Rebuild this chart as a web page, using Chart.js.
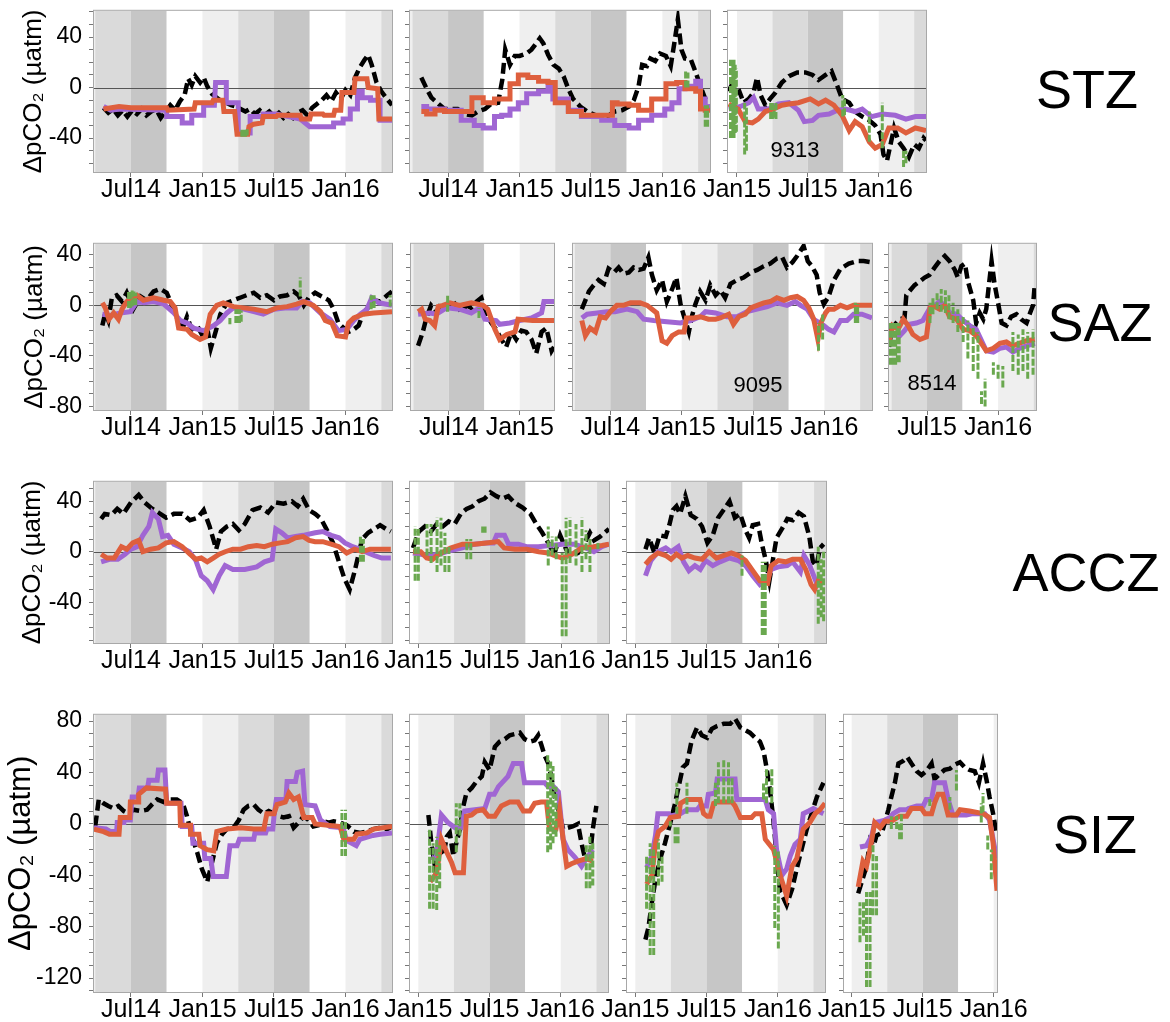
<!DOCTYPE html>
<html><head><meta charset="utf-8">
<script src="https://cdn.jsdelivr.net/npm/chart.js@4.4.1/dist/chart.umd.min.js"></script>
<style>
body{margin:0;background:#fff;width:1170px;height:1022px;position:relative;overflow:hidden;font-family:"Liberation Sans",Arial,sans-serif}
canvas{position:absolute}
.zone{position:absolute;font-size:54px;transform:translate(-50%,-50%);color:#000;white-space:nowrap}
.note{position:absolute;font-size:22px;transform:translate(-50%,-50%);color:#000}
</style></head><body>
<script>
// ---------- tick labels / categories ----------
const xTickMonths = [6, 12, 18, 24];            // months since Jan 2014
const xTickLabels = ['Jul14', 'Jan15', 'Jul15', 'Jan16'];
const yTitle = 'ΔpCO₂ (µatm)';
const zoneNames = ['STZ', 'SAZ', 'ACCZ', 'SIZ'];
const floatIds = ['9313', '9095', '8514'];
const yLabelsSmall = [40, 0, -40, -80];
const yLabelsSIZ = [80, 40, 0, -40, -80, -120];
// season shading: Jan–Apr, Apr–Jul, Jul–Oct, Oct–Jan
const seasonColors = ['#efefef', '#dadada', '#c6c6c6', '#ffffff'];

// ---------- series: [month, value]; green: [month, low, high] ----------
const stz1Black = [[3.7,-16],[4.1,-20],[4.5,-17],[4.9,-22],[5.3,-18],[5.7,-23],[6.1,-18],[6.5,-21],[6.9,-17],[7.3,-22],[7.7,-19],[8.1,-17],[8.5,-24],[8.9,-19],[9.3,-14],[9.7,-18],[10.1,-11],[10.5,-6],[10.8,7],[11.1,2],[11.4,9],[11.8,4],[12.1,8],[12.4,1],[12.8,-5],[13.2,-8],[13.6,-11],[14.0,-12],[14.4,-14],[14.8,-15],[15.2,-17],[15.6,-19],[16.0,-17],[16.4,-21],[16.8,-18],[17.2,-22],[17.6,-19],[18.0,-23],[18.4,-20],[18.8,-24],[19.2,-21],[19.6,-24],[20.0,-20],[20.4,-18],[20.8,-22],[21.2,-16],[21.6,-13],[22.0,-10],[22.4,-6],[22.8,-11],[23.2,-4],[23.6,-9],[24.0,-2],[24.4,-6],[24.8,8],[25.2,16],[25.6,22],[25.9,26],[26.2,18],[26.6,4],[27.0,-3],[27.4,-8],[27.9,-14]];
const stz1Purple = [[3.7,-15],[4.3,-18],[5.1,-17],[9.0,-18],[9.0,-23],[10.3,-23],[10.3,-28],[11.1,-28],[11.1,-22],[12.1,-22],[12.1,-14],[13.0,-14],[13.1,4],[14.0,4],[14.0,-12],[15.0,-12],[15.0,-36],[16.0,-36],[16.0,-23],[17.1,-23],[17.1,-21],[18.2,-21],[19.2,-23],[20.2,-25],[21.0,-31],[23.0,-31],[23.0,-28],[23.8,-28],[23.8,-25],[24.4,-25],[24.4,-17],[25.0,-17],[25.0,-3],[25.4,-3],[25.4,-8],[26.1,-8],[26.1,-10],[26.9,-10],[26.9,-26],[27.9,-26]];
const stz1Red = [[3.7,-17],[5.0,-15],[6.0,-16],[9.0,-16],[9.1,-18],[11.3,-17],[11.4,-12],[12.8,-12],[12.9,-10],[13.7,-10],[13.8,-19],[14.7,-19],[14.9,-37],[15.8,-37],[15.9,-31],[16.3,-29],[17.0,-28],[17.1,-23],[18.2,-23],[18.3,-22],[20.2,-22],[20.3,-25],[21.0,-25],[21.1,-21],[22.1,-21],[22.2,-22],[23.0,-22],[23.1,-18],[23.6,-18],[23.7,-4],[24.7,-4],[24.8,7],[25.8,7],[25.9,0],[26.7,-1],[26.8,-25],[27.9,-25]];
const stz1Green = [[15.3,-39,-32],[15.45,-39,-32],[15.6,-39,-32],[15.75,-38,-33]];

const stz2Black = [[3.75,8],[4.2,-1],[4.6,-8],[5.2,-13],[5.7,-17],[6.3,-17],[6.8,-17],[7.4,-21],[8.0,-22],[8.5,-19],[9.1,-17],[9.6,-13],[10.2,-12],[10.55,6],[10.8,30],[11.2,18],[11.6,25],[12.0,25],[12.6,27],[13.0,30],[13.4,35],[13.7,39],[14.0,35],[14.4,26],[14.85,18],[15.3,15],[15.7,9],[16.1,-1],[16.5,-9],[17.1,-15],[17.7,-19],[18.4,-22],[18.9,-23],[19.5,-22],[20.0,-19],[20.6,-18],[21.2,-15],[21.6,-10],[22.0,1],[22.3,18],[22.7,17],[23.0,23],[23.4,21],[23.8,27],[24.3,25],[24.7,17],[25.0,35],[25.3,54],[25.6,30],[25.9,23],[26.4,22],[26.8,12],[27.2,1],[27.6,-9],[28.0,-12]];
const stz2Purple = [[3.75,-15],[4.2,-15],[4.2,-17],[5.7,-17],[5.7,-18],[7.1,-18],[7.1,-26],[8.2,-26],[8.2,-30],[8.95,-30],[8.95,-32],[9.9,-32],[9.9,-23],[10.5,-23],[10.5,-22],[11.2,-22],[11.2,-17],[11.9,-17],[11.9,-12],[12.6,-12],[12.6,-5],[13.6,-5],[13.6,-3],[14.4,-3],[14.4,3],[14.8,3],[14.8,-9],[16.1,-9],[16.1,-18],[17.2,-18],[17.2,-23],[18.9,-23],[18.9,-26],[20.0,-26],[20.0,-30],[21.2,-30],[21.2,-32],[22.0,-32],[22.0,-26],[23.1,-26],[23.1,-22],[24.2,-22],[24.2,-17],[24.8,-17],[24.8,-12],[25.4,-12],[25.4,-1],[25.9,-1],[25.9,1],[26.8,1],[26.8,5],[27.2,5],[27.2,-9],[27.6,-9],[27.6,-15],[28.0,-15]];
const stz2Red = [[3.75,-19],[4.2,-19],[4.2,-21],[4.9,-21],[4.9,-18],[5.7,-18],[5.7,-19],[8.0,-19],[8.0,-8],[8.95,-8],[8.95,-12],[9.9,-12],[9.9,-9],[11.2,-9],[11.2,3],[11.9,3],[11.9,10],[12.7,10],[12.7,8],[13.6,8],[13.6,5],[14.4,5],[14.4,4],[15.0,4],[15.0,-12],[16.1,-12],[16.1,-19],[17.2,-19],[17.2,-22],[19.8,-22],[19.8,-12],[20.2,-12],[20.2,-13],[21.2,-13],[21.2,-14],[22.0,-14],[22.0,-18],[23.1,-18],[23.1,-9],[24.3,-9],[24.3,3],[25.2,3],[25.2,4],[25.9,4],[25.9,-1],[26.8,-1],[26.8,-3],[27.2,-3],[27.2,-17],[27.6,-17],[27.6,-18],[28.0,-18]];
const stz2Green = [[25.95,0,13],[26.15,0,12],[27.6,-31,-14],[27.8,-31,-14]];

const stz3Black = [[11.3,-3],[11.5,1],[11.8,-5],[12.2,-3],[12.56,-12],[13.0,-9],[13.4,-4],[13.7,8],[14.0,-6],[14.4,-14],[14.8,-9],[15.25,-4],[15.8,4],[16.4,9],[17.1,12],[17.8,12],[18.4,10],[18.9,6],[19.5,10],[20.0,13],[20.5,1],[20.9,-9],[21.5,-12],[22.0,-19],[22.6,-23],[23.2,-26],[23.7,-30],[24.15,-37],[24.4,-53],[24.7,-58],[25.0,-45],[25.3,-32],[25.7,-43],[26.1,-48],[26.55,-55],[27.0,-45],[27.4,-48],[27.8,-40],[28.0,-42]];
const stz3Purple = [[11.3,-17],[11.9,-16],[12.3,-15],[13.0,-12],[13.4,-8],[13.8,-17],[14.7,-17],[15.5,-13],[16.4,-12],[17.2,-18],[17.7,-27],[18.4,-26],[18.9,-22],[19.8,-21],[20.5,-18],[21.2,-17],[22.0,-19],[22.6,-17],[23.4,-23],[24.3,-21],[25.4,-22],[26.3,-25],[27.1,-23],[28.0,-23]];
const stz3Red = [[11.3,-13],[12.1,-17],[12.7,-27],[13.3,-28],[13.8,-25],[14.4,-19],[15.1,-17],[15.8,-14],[16.4,-13],[17.2,-12],[18.2,-9],[18.9,-13],[19.5,-10],[20.2,-14],[20.9,-22],[21.5,-34],[22.0,-27],[22.6,-31],[23.2,-43],[23.7,-48],[24.3,-45],[24.85,-32],[25.6,-32],[26.3,-36],[27.1,-32],[28.0,-34]];
const stz3Green = [[11.45,-40,22],[11.55,-40,22],[11.65,-38,20],[11.75,-40,22],[11.85,-36,18],[11.95,-35,15],[12.65,-53,-12],[12.8,-50,-15],[14.85,-25,-12],[15.0,-25,-12],[15.15,-24,-14],[15.3,-25,-12],[20.95,-23,-6],[21.1,-22,-8],[23.2,-43,-19],[24.3,-48,-12],[26.1,-63,-50],[26.3,-60,-50]];

const saz1Black = [[3.6,-16],[3.85,-6],[4.1,-12],[4.4,6],[4.8,8],[5.25,3],[5.65,10],[6.2,-3],[6.8,7],[7.3,4],[7.9,11],[8.45,13],[9.0,10],[9.45,0],[9.85,-10],[10.3,-19],[10.7,-9],[11.1,-19],[11.55,-16],[11.95,-23],[12.4,-18],[12.7,-34],[13.1,-21],[13.5,-7],[14.05,2],[14.6,4],[15.15,6],[15.7,8],[16.3,10],[16.85,6],[17.4,8],[18.0,4],[18.5,7],[19.1,8],[19.65,11],[20.05,8],[20.5,0],[20.9,6],[21.45,10],[22.0,7],[22.6,4],[23.0,-3],[23.4,-14],[23.85,-18],[24.25,-21],[24.7,-19],[25.1,-16],[25.5,-6],[25.95,-1],[26.35,4],[26.9,3],[27.5,8],[27.9,11]];
const saz1Purple = [[3.6,-7],[4.3,-8],[5.1,-6],[5.95,-5],[6.5,3],[7.1,2],[7.9,3],[8.75,1],[9.6,-6],[10.15,-12],[10.7,-14],[11.25,-18],[12.1,-20],[12.95,-16],[13.5,-12],[14.05,-6],[14.6,-2],[15.45,-3],[16.3,-5],[17.1,-7],[18.0,-3],[19.1,-2],[19.9,-2],[20.35,3],[21.0,2],[21.9,-6],[22.7,-11],[23.4,-20],[24.1,-19],[24.7,-12],[25.25,-7],[25.8,-3],[26.2,6],[26.8,2],[27.9,0]];
const saz1Red = [[3.6,2],[3.85,-2],[4.15,-11],[4.55,-6],[4.95,-11],[5.25,-3],[5.65,3],[6.1,6],[6.5,8],[7.05,4],[7.9,6],[8.75,4],[9.3,3],[9.7,-2],[10.0,-18],[10.7,-19],[11.1,-23],[11.8,-27],[12.25,-25],[12.65,-7],[13.2,0],[13.75,2],[14.6,-1],[15.45,-2],[16.3,-3],[17.4,-5],[18.25,-2],[19.1,-1],[19.9,1],[20.5,3],[21.3,0],[21.9,-5],[22.3,-12],[22.85,-14],[23.3,-24],[24.0,-25],[24.25,-14],[24.7,-10],[25.5,-7],[26.35,-6],[27.9,-5]];
const saz1Green = [[5.8,-2,12],[5.95,-2,12],[6.1,-1,12],[6.25,0,11],[6.4,0,10],[14.3,-15,-10],[14.8,-14,-3],[14.95,-14,-3],[15.1,-14,-3],[15.25,-13,-4],[20.2,7,22],[26.15,-3,8],[26.4,-2,8],[27.75,-1,8]];

const saz2Black = [[3.4,-32],[3.8,-21],[4.1,-10],[4.5,0],[4.95,-5],[5.4,2],[5.8,-2],[6.25,4],[6.65,0],[7.05,-5],[7.5,0],[7.9,-2],[8.35,3],[8.75,6],[9.2,-7],[9.6,-14],[10.0,-19],[10.45,-27],[10.85,-33],[11.3,-21],[11.7,-27],[12.15,-20],[12.55,-21],[13.0,-27],[13.4,-38],[13.85,-21],[14.25,-18],[14.7,-36],[14.9,-33]];
const saz2Purple = [[3.4,-7],[4.4,-6],[4.95,-7],[5.8,-2],[6.9,-3],[7.9,-6],[8.6,-2],[9.05,-11],[10.0,-12],[10.3,-15],[11.15,-14],[12.0,-12],[13.0,-10],[13.85,-6],[14.05,3],[14.9,3]];
const saz2Red = [[3.4,-5],[3.7,-3],[4.0,-11],[4.4,-12],[4.8,-16],[5.1,-1],[5.5,0],[6.1,2],[6.9,0],[7.9,2],[8.9,0],[9.3,-3],[9.9,-19],[10.3,-27],[10.9,-23],[11.6,-21],[11.85,-11],[13.1,-12],[14.9,-12]];
const saz2Green = [[5.9,-5,8],[8.55,-10,-2]];

const saz3Black = [[3.6,-3],[3.9,4],[4.2,11],[4.6,16],[5.0,20],[5.45,17],[5.85,29],[6.3,26],[6.7,30],[7.1,25],[7.55,26],[7.95,30],[8.4,28],[8.8,29],[9.2,38],[9.5,24],[9.9,12],[10.35,20],[10.75,3],[11.2,13],[11.55,22],[11.9,1],[12.2,-9],[12.6,-21],[12.85,-9],[13.15,1],[13.55,11],[14.0,4],[14.4,16],[14.85,8],[15.25,12],[15.65,6],[16.1,17],[16.65,20],[17.2,22],[17.8,26],[18.35,28],[18.9,31],[19.45,33],[20.0,37],[20.45,38],[20.85,30],[21.3,34],[21.7,39],[22.25,47],[22.6,35],[22.95,31],[23.35,24],[23.6,10],[23.95,1],[24.35,7],[24.8,20],[25.35,29],[26.05,33],[26.75,35],[27.3,35],[28.0,34]];
const saz3Purple = [[3.6,-10],[4.05,-7],[4.9,-6],[5.7,-5],[6.4,-5],[7.4,-3],[8.25,-5],[8.8,-11],[9.65,-12],[10.75,-13],[11.9,-14],[12.75,-12],[13.55,-9],[14.0,-5],[14.85,-6],[15.8,-9],[16.65,-9],[17.5,-5],[18.35,-3],[19.2,-1],[20.0,2],[20.85,0],[21.55,3],[22.0,0],[22.55,-3],[23.1,-11],[23.95,-16],[24.35,-19],[24.8,-21],[25.35,-12],[25.9,-12],[26.45,-7],[27.15,-7],[28.0,-10]];
const saz3Red = [[3.6,-12],[3.9,-24],[4.3,-18],[4.75,-21],[5.15,-9],[5.6,-10],[6.0,-5],[6.55,0],[7.1,0],[7.7,2],[8.5,2],[9.1,0],[9.9,-6],[10.35,-28],[10.75,-30],[11.2,-24],[11.75,-21],[12.2,-21],[12.4,-10],[13.0,-10],[13.55,-9],[14.25,-11],[14.85,-11],[15.25,-10],[15.95,-7],[16.35,-15],[16.8,-9],[17.35,-7],[17.8,-2],[18.35,0],[18.9,2],[19.45,3],[20.0,6],[20.6,4],[21.15,6],[21.7,7],[22.25,4],[22.7,-2],[23.1,-11],[23.45,-27],[23.7,-14],[24.1,-6],[24.35,-3],[24.8,-3],[25.35,0],[25.9,-2],[26.45,0],[27.15,0],[28.0,0]];
const saz3Green = [[23.5,-36,-14],[23.85,-27,-7],[26.6,-14,2],[26.8,-14,1]];

const saz4Black = [[14.8,-33],[15.0,-19],[15.3,-15],[15.7,-11],[16.1,-10],[16.25,8],[16.5,11],[16.95,16],[17.4,19],[17.8,22],[18.2,24],[18.65,30],[19.05,35],[19.5,39],[19.9,35],[20.35,28],[20.6,22],[20.9,31],[21.2,33],[21.45,19],[21.9,4],[22.15,-14],[22.45,-6],[22.75,-11],[23.0,-3],[23.45,35],[23.7,17],[24.0,2],[24.3,-14],[24.7,-16],[25.1,-9],[25.55,-7],[25.95,-11],[26.4,-14],[26.7,-6],[26.95,0],[27.1,17]];
const saz4Purple = [[14.8,-21],[15.1,-23],[15.7,-24],[16.1,-20],[16.5,-15],[17.1,-14],[17.65,-12],[18.25,-2],[18.65,0],[19.05,3],[19.5,0],[19.9,-6],[20.5,-7],[21.05,-12],[21.6,-16],[22.15,-19],[23.0,-36],[23.6,-37],[24.15,-34],[24.7,-33],[25.25,-37],[25.8,-34],[26.4,-32],[27.1,-30]];
const saz4Red = [[14.8,-28],[15.1,-16],[15.55,-19],[16.0,-11],[16.4,-16],[16.8,-23],[17.4,-27],[17.95,-25],[18.25,-2],[18.65,-1],[19.05,-3],[19.5,0],[19.9,-9],[20.5,-11],[21.05,-19],[21.6,-20],[22.15,-24],[23.0,-36],[23.6,-34],[24.15,-30],[24.7,-29],[25.25,-32],[25.8,-30],[26.4,-28],[27.1,-27]];
const saz4Green = [[14.9,-47,-14],[15.05,-47,-14],[15.2,-47,-14],[15.35,-47,-14],[15.5,-45,-14],[15.65,-45,-14],[18.25,-14,2],[18.5,-7,7],[18.85,-3,11],[19.2,-5,13],[19.55,-6,12],[19.85,-11,8],[20.2,-14,2],[20.6,-21,-3],[21.05,-29,-8],[21.45,-42,-12],[21.9,-52,-16],[22.3,-58,-21],[22.6,-78,-68],[22.9,-80,-58],[23.6,-55,-45],[24.0,-58,-47],[24.4,-65,-48],[25.25,-52,-21],[25.7,-55,-23],[26.1,-52,-19],[26.5,-58,-21],[26.95,-55,-19]];

const accz1Black = [[3.5,26],[3.8,30],[4.35,29],[4.85,34],[5.35,30],[6.0,39],[6.65,45],[7.15,39],[7.65,35],[8.3,31],[8.95,27],[9.6,30],[10.3,30],[10.95,25],[11.6,27],[12.1,33],[12.6,20],[13.15,2],[13.55,16],[14.05,20],[14.55,22],[15.05,17],[15.55,22],[16.2,33],[16.85,35],[17.5,31],[18.15,39],[18.8,38],[19.5,40],[20.0,36],[20.45,42],[20.95,33],[21.45,30],[21.95,26],[22.45,17],[22.95,7],[23.45,-8],[23.9,-21],[24.35,-30],[24.75,-16],[25.1,-2],[25.4,10],[25.9,15],[26.4,18],[26.9,21],[27.4,18],[27.8,16]];
const accz1Purple = [[3.5,-8],[4.2,-6],[4.9,-6],[5.5,-2],[6.0,2],[6.5,4],[7.0,13],[7.5,20],[7.8,31],[8.3,26],[8.65,12],[9.1,13],[9.6,6],[10.3,3],[10.9,0],[11.45,-7],[11.9,-19],[12.4,-23],[12.9,-30],[13.4,-19],[13.9,-11],[14.55,-14],[15.55,-14],[16.55,-12],[17.2,-8],[17.85,-6],[18.15,18],[18.65,15],[19.15,11],[19.8,12],[20.45,13],[21.45,15],[22.1,16],[22.8,13],[23.45,11],[23.95,7],[24.6,4],[25.25,2],[25.9,-1],[26.4,-3],[27.05,-5],[27.8,-5]];
const accz1Red = [[3.5,-2],[4.0,-5],[4.6,-5],[5.2,4],[5.65,2],[6.15,7],[6.65,9],[7.0,0],[7.65,2],[8.3,3],[8.95,7],[9.6,8],[10.3,4],[10.95,-2],[11.45,-6],[11.9,-5],[12.4,-8],[12.9,-5],[13.4,-2],[13.9,0],[14.55,2],[15.2,2],[15.85,4],[16.55,5],[17.2,4],[17.85,6],[18.5,7],[19.15,8],[19.8,11],[20.45,12],[20.95,9],[21.45,8],[22.1,8],[22.8,6],[23.45,4],[24.1,-1],[24.75,2],[25.4,0],[26.05,2],[26.7,2],[27.8,2]];
const accz1Green = [[25.25,-8,13],[25.5,-8,10]];

const accz2Black = [[11.55,3],[12.05,16],[12.55,20],[13.05,16],[13.55,22],[14.05,20],[14.55,24],[15.05,22],[15.55,30],[16.05,34],[16.55,36],[17.05,40],[17.55,42],[18.05,47],[18.55,44],[19.05,42],[19.55,44],[20.05,39],[20.75,35],[21.4,30],[21.9,22],[22.4,15],[22.9,7],[23.4,-2],[23.9,13],[24.4,2],[24.9,-3],[25.4,-1],[25.9,6],[26.4,15],[26.75,9],[27.25,12],[27.75,16],[28.0,18]];
const accz2Purple = [[11.55,-1],[12.2,-2],[12.9,-3],[13.7,-2],[14.7,1],[15.7,3],[16.7,6],[17.7,7],[18.3,7],[18.57,13],[19.23,13],[19.57,6],[20.4,6],[21.07,4],[22.07,4],[23.07,5],[24.07,6],[25.07,6],[26.07,3],[26.73,0],[27.4,4],[28.0,6]];
const accz2Red = [[11.55,0],[12.2,0],[12.7,-5],[13.2,-6],[13.7,-2],[14.7,3],[15.7,6],[16.7,6],[17.7,7],[18.7,8],[19.2,3],[20.1,2],[21.1,2],[22.1,0],[22.9,-1],[23.4,-3],[24.1,-5],[24.9,-2],[25.7,3],[26.7,4],[27.4,5],[28.0,6]];
const accz2Green = [[11.73,-23,20],[12.0,-23,18],[12.73,-3,22],[13.07,-9,22],[13.57,-16,27],[13.9,-11,27],[14.23,-16,15],[14.57,-16,4],[16.07,-6,10],[16.4,-6,10],[17.4,15,20],[17.6,15,20],[22.9,-11,20],[23.23,-3,12],[23.57,-6,12],[24.07,-67,-1],[24.4,-67,27],[24.73,-9,27],[25.23,-11,22],[25.73,-16,27],[26.07,-6,17],[26.4,-16,10],[27.07,2,7]];

const accz3Black = [[12.85,2],[13.15,11],[13.6,-1],[14.05,13],[14.55,12],[14.85,21],[15.15,33],[15.45,36],[15.75,30],[16.2,44],[16.65,29],[17.15,26],[17.6,20],[18.05,7],[18.5,13],[18.95,27],[19.4,33],[19.9,40],[20.35,27],[20.8,30],[21.25,17],[21.55,11],[21.85,21],[22.3,22],[22.6,7],[22.95,-7],[23.25,-23],[23.55,-6],[23.85,11],[24.3,18],[24.75,26],[25.2,25],[25.7,31],[26.15,28],[26.6,12],[26.9,-8],[27.2,-11],[27.5,3],[27.8,6]];
const accz3Purple = [[12.85,-19],[13.3,-7],[13.9,0],[14.55,3],[15.0,0],[15.6,4],[16.05,-8],[16.5,-15],[17.0,-11],[17.45,-14],[17.9,-7],[18.5,-11],[19.1,-8],[19.9,-5],[20.65,-7],[21.25,-11],[21.85,-19],[22.45,-26],[23.1,-21],[23.4,-14],[24.0,-12],[24.75,-11],[25.2,-8],[25.85,-16],[26.15,-3],[26.6,-10],[27.05,-21],[27.35,-28]];
const accz3Red = [[12.85,-10],[13.3,-5],[13.9,-1],[14.55,-3],[15.0,-6],[15.45,-2],[15.9,-5],[16.4,-3],[17.0,-5],[17.6,-6],[18.2,0],[18.8,-5],[19.4,-3],[20.05,-1],[20.65,-3],[21.25,-7],[21.85,-15],[22.45,-23],[23.1,-25],[23.4,-11],[24.0,-7],[24.6,-8],[25.2,-6],[25.85,-6],[26.3,-14],[26.75,-26],[27.05,-30],[27.35,-23],[27.8,-24]];
const accz3Green = [[20.95,-19,-3],[22.65,-66,-8],[22.9,-66,-8],[27.35,-57,4],[27.6,-52,-6],[27.8,-55,0]];

const siz1Black = [[3.0,-2],[3.3,19],[3.7,16],[4.1,14],[4.55,12],[4.95,14],[5.4,10],[5.8,8],[6.2,11],[6.8,10],[7.35,11],[7.75,15],[8.2,19],[8.75,17],[9.3,19],[9.85,19],[10.35,16],[10.7,6],[11.1,-9],[11.55,-22],[11.95,-35],[12.4,-45],[12.8,-30],[13.2,-15],[13.65,-8],[14.05,-4],[14.6,-3],[15.05,3],[15.45,11],[15.85,14],[16.3,15],[16.7,11],[17.15,8],[17.55,10],[18.0,8],[18.4,6],[18.8,5],[19.25,6],[19.65,-3],[20.05,1],[20.5,6],[20.9,3],[21.3,-2],[21.75,-1],[22.15,2],[22.6,1],[23.0,2],[23.55,1],[24.1,-1],[24.7,-6],[25.25,-7],[25.8,-6],[26.35,-4],[26.9,-3],[27.5,-4],[27.9,-2]];
const siz1Purple = [[2.9,-3],[3.9,-4],[4.3,-6],[4.8,-6],[4.85,1],[5.35,1],[5.4,3],[5.95,3],[6.1,21],[6.6,21],[6.7,28],[7.4,28],[7.5,34],[8.2,34],[8.3,42],[8.85,42],[9.0,16],[10.2,16],[10.3,-2],[11.1,-2],[11.2,-15],[12.1,-15],[12.2,-27],[12.7,-27],[12.9,-41],[14.0,-41],[14.3,-17],[14.9,-17],[15.1,-12],[16.3,-12],[16.4,-7],[17.3,-7],[17.4,-4],[17.9,-4],[18.0,6],[18.2,19],[19.0,19],[19.1,33],[19.8,33],[19.95,40],[20.4,41],[20.6,15],[21.45,14],[21.9,3],[22.7,-2],[23.8,-3],[24.1,-13],[24.9,-17],[25.2,-12],[26.3,-9],[26.9,-8],[27.9,-7]];
const siz1Red = [[2.9,-4],[3.7,-6],[4.2,-8],[5.0,-8],[5.1,5],[5.9,5],[5.95,17],[6.6,17],[6.65,23],[7.3,28],[8.9,27],[9.0,16],[10.1,16],[10.15,-1],[11.0,-1],[11.0,-8],[11.7,-8],[11.8,-17],[12.4,-20],[12.95,-21],[13.2,-6],[14.05,-4],[15.2,-3],[16.3,-4],[17.15,-4],[17.4,8],[18.0,8],[18.25,15],[18.95,17],[19.25,24],[19.65,19],[20.05,21],[20.5,5],[21.2,5],[21.45,0],[23.55,-2],[23.85,-12],[24.7,-12],[24.95,-8],[25.8,-7],[26.35,-4],[27.9,-2]];
const siz1Green = [[23.7,-25,11],[24.0,-25,11]];

const siz2Black = [[12.85,7],[13.1,-15],[13.4,-33],[13.7,-20],[14.1,-25],[14.4,-10],[14.65,-7],[14.95,-25],[15.2,-15],[15.5,-4],[15.8,14],[16.05,24],[16.5,28],[16.9,33],[17.35,37],[17.6,48],[18.0,42],[18.45,60],[18.85,64],[19.3,66],[19.7,69],[20.15,70],[20.55,71],[20.95,66],[21.4,64],[21.8,65],[22.1,69],[22.35,62],[22.65,53],[22.95,47],[23.2,37],[23.5,21],[23.9,8],[24.2,-4],[24.6,-3],[25.0,-2],[25.45,0],[25.75,-15],[26.0,-25],[26.45,-27],[26.7,-4],[27.0,14]];
const siz2Purple = [[13.1,-26],[13.5,-27],[13.95,7],[14.5,1],[15.1,-3],[15.6,-3],[15.9,10],[16.75,11],[17.6,12],[18.0,23],[18.4,23],[18.75,29],[19.55,37],[20.0,47],[20.7,47],[20.95,32],[22.65,32],[22.95,29],[23.4,29],[23.8,25],[24.2,-12],[24.6,-20],[25.2,-26],[25.75,-33],[26.15,-27],[26.7,-20]];
const siz2Red = [[13.0,-45],[13.55,-38],[13.95,-12],[14.4,-22],[14.8,-30],[15.1,-38],[15.8,-38],[16.05,6],[16.5,7],[16.9,10],[17.45,11],[17.9,6],[18.45,6],[19.0,14],[19.7,17],[20.4,17],[20.85,10],[21.4,10],[21.8,16],[22.35,17],[22.8,17],[23.05,-4],[23.6,-4],[23.9,11],[24.2,-12],[24.5,-33],[24.9,-31],[25.45,-29],[26.15,-27],[26.7,-29]];
const siz2Green = [[12.95,-66,-3],[13.25,-66,-15],[13.55,-67,-10],[13.8,-50,-15],[15.2,-22,16],[15.5,-9,16],[22.9,-22,55],[23.15,-20,50],[23.35,-15,45],[23.6,-10,29],[26.15,-50,-15],[26.45,-50,-10],[26.7,-48,-15]];

const siz3Black = [[12.85,-90],[13.1,-81],[13.4,-61],[13.7,-43],[14.1,-27],[14.5,-15],[14.95,1],[15.35,16],[15.65,29],[16.0,44],[16.35,47],[16.75,65],[17.2,75],[17.6,69],[18.05,67],[18.45,74],[18.85,76],[19.45,78],[20.0,78],[20.4,82],[20.85,75],[21.25,73],[21.65,71],[22.1,67],[22.5,64],[22.8,57],[23.05,44],[23.35,26],[23.6,6],[23.9,-25],[24.2,-53],[24.5,-58],[24.75,-63],[25.2,-51],[25.6,-35],[26.0,-20],[26.45,-4],[26.85,8],[27.3,21],[27.85,32]];
const siz3Purple = [[12.95,-34],[13.4,-25],[13.7,-9],[13.9,8],[14.8,8],[14.95,6],[15.8,8],[16.35,11],[17.2,11],[17.45,14],[18.0,14],[18.15,23],[18.75,24],[18.9,35],[20.4,35],[20.55,19],[22.95,19],[23.2,11],[23.65,8],[23.9,-20],[24.35,-40],[24.75,-35],[25.05,-25],[25.45,-16],[25.9,-12],[26.15,8],[26.6,10],[27.0,12],[27.4,10],[27.85,8]];
const siz3Red = [[12.95,-47],[13.4,-40],[13.7,-15],[13.95,-6],[14.5,-2],[14.95,5],[15.65,6],[15.8,16],[16.35,19],[17.45,19],[17.75,8],[18.05,6],[18.3,6],[18.6,16],[18.85,17],[20.15,17],[20.4,14],[20.85,5],[21.8,5],[22.1,8],[22.65,8],[22.95,-12],[23.65,-20],[24.2,-40],[24.75,-56],[25.2,-33],[25.6,-27],[26.15,-4],[26.7,1],[27.15,8],[27.55,11],[27.98,16]];
const siz3Green = [[12.95,-66,-25],[13.25,-102,-15],[13.55,-102,-20],[13.95,-48,-12],[14.25,-45,-25],[14.95,-2,2],[15.35,-15,-2],[15.6,-15,-2],[15.5,8,32],[16.35,8,32],[18.75,14,32],[19.0,16,48],[19.45,16,51],[19.85,16,48],[20.15,16,36],[22.8,19,32],[23.05,16,44],[23.5,16,44],[23.75,-81,-17],[24.05,-97,-20]];

const siz4Black = [[12.55,-54],[12.85,-45],[13.25,-33],[13.55,-13],[13.85,-17],[14.1,-9],[14.55,-7],[14.8,1],[15.1,11],[15.35,21],[15.65,32],[15.95,47],[16.35,49],[16.7,52],[17.05,47],[17.5,41],[17.9,38],[18.3,41],[18.75,47],[19.0,35],[19.45,39],[19.85,42],[20.3,43],[20.7,46],[21.15,48],[21.55,44],[21.95,42],[22.4,41],[22.75,32],[23.1,47],[23.4,34],[23.65,21],[23.95,8],[24.2,-6]];
const siz4Purple = [[12.7,-18],[13.25,-17],[13.7,-9],[13.95,1],[14.4,2],[14.8,3],[15.25,5],[15.5,8],[16.05,11],[16.65,11],[16.8,12],[17.5,14],[18.05,14],[18.3,19],[18.75,19],[19.0,32],[19.85,32],[20.15,19],[20.55,7],[21.7,7],[22.25,8],[23.25,8],[23.65,3],[24.25,-27]];
const siz4Red = [[12.55,-49],[12.95,-29],[13.25,-33],[13.55,-20],[13.95,1],[14.4,-3],[14.8,2],[15.35,2],[16.05,6],[16.65,6],[17.05,12],[17.9,12],[18.2,8],[18.75,8],[19.0,16],[19.3,23],[19.7,23],[20.15,7],[20.85,7],[21.15,11],[21.95,10],[23.1,8],[23.65,5],[23.95,-15],[24.28,-52]];
const siz4Green = [[12.7,-92,-61],[13.0,-87,-61],[13.25,-127,-53],[13.55,-127,-53],[13.8,-71,-15],[14.1,-71,-25],[15.35,-4,6],[15.8,-4,6],[16.05,-12,0],[16.2,-12,8],[18.6,14,21],[20.3,11,21],[20.85,26,42],[22.95,1,16],[23.1,9,24],[23.5,-20,-9],[23.8,-43,-20]];

// ---------- layout (positions only) ----------
const rows = [
  {top: 6,   bottom: 172, ymin: -66.9, ymax: 60.8, yLabels: [40, 0, -40],     titleCenter: 34, titleSize: 26, zoneX: 1087, zoneY: 89},
  {top: 239, bottom: 410, ymin: -82.8, ymax: 48.7, yLabels: yLabelsSmall,     titleCenter: 35, titleSize: 26, zoneX: 1100, zoneY: 322},
  {top: 477, bottom: 643, ymin: -72.3, ymax: 55.4, yLabels: [40, 0, -40],     titleCenter: 33, titleSize: 26, zoneX: 1086, zoneY: 572},
  {top: 710, bottom: 992, ymin: -130.8, ymax: 84.9, yLabels: yLabelsSIZ,      titleCenter: 21, titleSize: 31, zoneX: 1095, zoneY: 834}
];
const panels = [
  {row: 0, left: 94,  right: 392, xmin: 2.9,   xmax: 27.9,  first: true, s: [stz1Black, stz1Purple, stz1Red, stz1Green]},
  {row: 0, left: 410, right: 710, xmin: 2.8,   xmax: 28.0,  s: [stz2Black, stz2Purple, stz2Red, stz2Green]},
  {row: 0, left: 728, right: 926, xmin: 11.24, xmax: 28.0,  s: [stz3Black, stz3Purple, stz3Red, stz3Green], note: 0, noteX: 795, noteY: 150},
  {row: 1, left: 94,  right: 392, xmin: 2.9,   xmax: 27.9,  first: true, s: [saz1Black, saz1Purple, saz1Red, saz1Green]},
  {row: 1, left: 411, right: 554, xmin: 2.8,   xmax: 14.9,  s: [saz2Black, saz2Purple, saz2Red, saz2Green]},
  {row: 1, left: 573, right: 872, xmin: 2.86,  xmax: 28.0,  s: [saz3Black, saz3Purple, saz3Red, saz3Green], note: 1, noteX: 758, noteY: 385},
  {row: 1, left: 889, right: 1036, xmin: 14.79, xmax: 27.2, s: [saz4Black, saz4Purple, saz4Red, saz4Green], note: 2, noteX: 932, noteY: 383},
  {row: 2, left: 94,  right: 392, xmin: 2.9,   xmax: 27.9,  first: true, s: [accz1Black, accz1Purple, accz1Red, accz1Green]},
  {row: 2, left: 410, right: 609, xmin: 11.3,  xmax: 28.0,  s: [accz2Black, accz2Purple, accz2Red, accz2Green]},
  {row: 2, left: 627, right: 826, xmin: 11.3,  xmax: 28.0,  s: [accz3Black, accz3Purple, accz3Red, accz3Green]},
  {row: 3, left: 94,  right: 392, xmin: 2.9,   xmax: 27.9,  first: true, s: [siz1Black, siz1Purple, siz1Red, siz1Green]},
  {row: 3, left: 410, right: 608, xmin: 11.3,  xmax: 27.98, s: [siz2Black, siz2Purple, siz2Red, siz2Green]},
  {row: 3, left: 627, right: 825, xmin: 11.3,  xmax: 27.98, s: [siz3Black, siz3Purple, siz3Red, siz3Green]},
  {row: 3, left: 844, right: 997, xmin: 11.35, xmax: 24.28, s: [siz4Black, siz4Purple, siz4Red, siz4Green]}
];

const FONT = '"Liberation Sans", Arial, Helvetica, sans-serif';
Chart.defaults.font.family = FONT;
Chart.defaults.color = '#000';

const seasonPlugin = {
  id: 'seasons',
  beforeDatasetsDraw(chart) {
    const {ctx, chartArea: a, scales: {x, y}} = chart;
    ctx.save();
    ctx.beginPath(); ctx.rect(a.left, a.top, a.right - a.left, a.bottom - a.top); ctx.clip();
    for (let m = Math.floor(x.min / 3) * 3; m < x.max; m += 3) {
      const idx = (((m / 3) % 4) + 4) % 4;
      const x0 = Math.max(a.left, x.getPixelForValue(m));
      const x1 = Math.min(a.right, x.getPixelForValue(m + 3));
      ctx.fillStyle = seasonColors[idx];
      ctx.fillRect(x0, a.top, x1 - x0, a.bottom - a.top);
    }
    const y0 = Math.round(y.getPixelForValue(0)) + 0.5;
    ctx.strokeStyle = '#555'; ctx.lineWidth = 1;
    ctx.beginPath(); ctx.moveTo(a.left, y0); ctx.lineTo(a.right, y0); ctx.stroke();
    ctx.restore();
  },
  afterDraw(chart) {
    const {ctx, chartArea: a} = chart;
    ctx.save();
    ctx.strokeStyle = '#a8a8a8'; ctx.lineWidth = 1;
    ctx.strokeRect(a.left - 0.5, a.top - 0.5, a.right - a.left + 1, a.bottom - a.top + 1);
    ctx.restore();
  }
};

const toPts = arr => arr.map(p => ({x: p[0], y: p[1]}));
const toBars = arr => arr.flatMap(p => [{x: p[0], y: p[1]}, {x: p[0], y: p[2]}, {x: p[0], y: null}]);

function makePanel(p) {
  const r = rows[p.row];
  const T = 16, R = 45, B = 40;
  const L = p.first ? p.left : 60;
  const w = p.right - p.left, h = r.bottom - r.top;
  const cv = document.createElement('canvas');
  cv.width = w + L + R; cv.height = h + T + B;
  cv.style.left = (p.left - L) + 'px'; cv.style.top = (r.top - T) + 'px';
  cv.style.width = cv.width + 'px'; cv.style.height = cv.height + 'px';
  document.body.appendChild(cv);
  const [black, purple, red, green] = p.s;
  new Chart(cv, {
    type: 'line',
    data: {datasets: [
      {label: 'green', data: toBars(green), borderColor: '#6aa84f', borderWidth: 3, borderDash: [7, 2], order: 0, spanGaps: false},
      {label: 'red', data: toPts(red), borderColor: '#de5f3d', borderWidth: 5, order: 1},
      {label: 'purple', data: toPts(purple), borderColor: '#a066d3', borderWidth: 5, order: 2},
      {label: 'black', data: toPts(black), borderColor: '#000000', borderWidth: 4.5, borderDash: [11, 5], order: 3}
    ]},
    options: {
      responsive: false, animation: false, devicePixelRatio: 1, events: [],
      layout: {padding: {left: 0, top: T, right: R, bottom: 0}},
      elements: {point: {radius: 0}, line: {tension: 0, fill: false}},
      datasets: {line: {clip: 0}},
      plugins: {legend: {display: false}, tooltip: {enabled: false}},
      scales: {
        x: {
          type: 'linear', min: p.xmin, max: p.xmax,
          afterFit(s) { s.height = B; },
          afterBuildTicks(s) { s.ticks = xTickMonths.filter(v => v >= p.xmin && v <= p.xmax).map(v => ({value: v})); },
          ticks: {autoSkip: false, maxRotation: 0, minRotation: 0, padding: -2, color: '#000', font: {size: 25},
                  callback: v => xTickLabels[xTickMonths.indexOf(v)]},
          grid: {drawOnChartArea: false, drawTicks: true, tickLength: 5, color: '#777'},
          border: {display: false}
        },
        y: {
          type: 'linear', min: r.ymin, max: r.ymax,
          afterFit(s) { s.width = L; },
          afterBuildTicks(s) {
            const t = [];
            for (let v = Math.ceil(r.ymin / 10) * 10; v <= r.ymax; v += 10) t.push({value: v});
            s.ticks = t;
          },
          ticks: {autoSkip: false, padding: 7, color: '#000', font: {size: 23},
                  callback: v => (p.first && r.yLabels.includes(v)) ? String(v) : ''},
          grid: {drawOnChartArea: false, drawTicks: true, tickLength: 5, color: '#777'},
          border: {display: false},
          title: {display: !!p.first, text: yTitle, color: '#000', font: {size: r.titleSize},
                  padding: {top: r.titleCenter - r.titleSize * 0.6, bottom: 0}}
        }
      }
    },
    plugins: [seasonPlugin]
  });
  if (p.note !== undefined) {
    const d = document.createElement('div');
    d.className = 'note'; d.textContent = floatIds[p.note];
    d.style.left = p.noteX + 'px'; d.style.top = p.noteY + 'px';
    document.body.appendChild(d);
  }
}

panels.forEach(makePanel);
rows.forEach((r, i) => {
  const d = document.createElement('div');
  d.className = 'zone'; d.textContent = zoneNames[i];
  d.style.left = r.zoneX + 'px'; d.style.top = r.zoneY + 'px';
  document.body.appendChild(d);
});
</script>
</body></html>
